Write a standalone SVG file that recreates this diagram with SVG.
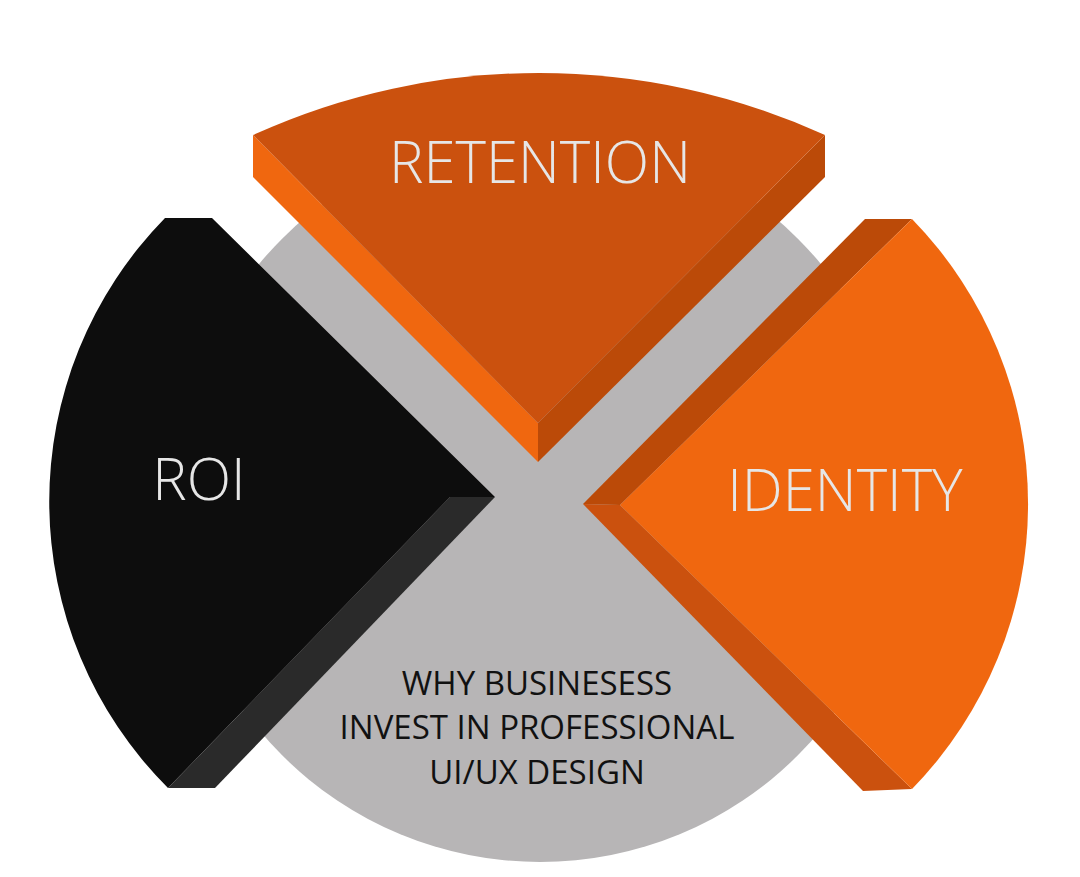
<svg xmlns="http://www.w3.org/2000/svg" width="1080" height="877" viewBox="0 0 1080 877">
<style>
.lbl{font-family:"Open Sans","Liberation Sans",sans-serif;font-weight:300;fill:#E6E6E6;text-anchor:middle}
.ctr{font-family:"Open Sans","Liberation Sans",sans-serif;font-weight:400;fill:#111;text-anchor:middle;font-size:33px}
</style>
<rect width="1080" height="877" fill="#fff"/>
<g id="center">
<circle cx="540" cy="497" r="365" fill="#B7B5B6"/>
<text class="ctr" x="537" y="695">WHY BUSINESESS</text>
<text class="ctr" x="537" y="739">INVEST IN PROFESSIONAL</text>
<text class="ctr" x="537" y="784">UI/UX DESIGN</text>
</g>
<g id="retention">
<polygon points="253,135 253,177 538,462 538,423" fill="#F0670F"/>
<polygon points="825,135 825,177 538,462 538,423" fill="#BB4A08"/>
<path d="M253,135 A690,690 0 0 1 825,135 L538,423 Z" fill="#CB510E"/>
<text class="lbl" x="540" y="183" font-size="58">RETENTION</text>
</g>
<g id="roi">
<polygon points="450,497 495,497 215,788 168,788" fill="#2A2A2A"/>
<path d="M212,218 L495,497 L450,497 L168,788 A405,405 0 0 1 165,218 Z" fill="#0D0D0D"/>
<text class="lbl" x="199" y="500" font-size="58">ROI</text>
</g>
<g id="identity">
<polygon points="865,219 912,219 620,505 583,504" fill="#BB4A08"/>
<polygon points="583,504 620,505 912,789 863,791" fill="#CB510E"/>
<path d="M912,219 A408,408 0 0 1 912,789 L620,505 Z" fill="#F0670F"/>
<text class="lbl" x="845" y="511" font-size="58">IDENTITY</text>
</g>
<g id="connectors"/>
</svg>
